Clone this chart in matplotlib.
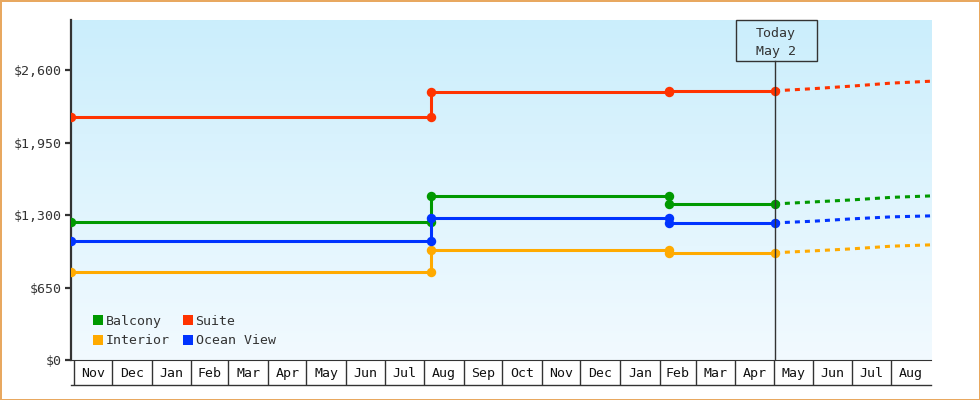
import numpy as np
import pandas as pd
import matplotlib
matplotlib.use('Agg')
import matplotlib.pyplot as plt
import matplotlib.dates as mdates
import matplotlib.transforms as mtransforms
from matplotlib.patches import Patch, Rectangle
from matplotlib.ticker import FuncFormatter
from matplotlib.colors import LinearSegmentedColormap

# price history: start date, then the dates where the price changed
start_date = '2019-10-30'
change_dates = ['2020-08-06', '2021-02-08']
today_date = '2021-05-02'
end_date = '2021-09-01'

balcony = [1239, 1468, 1400]
suite = [2179, 2406, 2415]
interior = [788, 988, 962]
ocean_view = [1069, 1275, 1230]

# forecast (dotted part), first value is today
forecast_dates = ['2021-05-02', '2021-06-01', '2021-07-01', '2021-08-01', '2021-09-01']
balcony_fc = [1400, 1418, 1436, 1459, 1472]
suite_fc = [2415, 2434, 2457, 2484, 2501]
interior_fc = [962, 979, 997, 1021, 1033]
ocean_view_fc = [1230, 1245, 1266, 1284, 1293]

y_ticks = [0, 650, 1300, 1950, 2600]

names = ['Balcony', 'Interior', 'Suite', 'Ocean View']
colors = ['#009900', '#ffaa00', '#ff3300', '#0033ff']
history = [balcony, interior, suite, ocean_view]
forecast = [balcony_fc, interior_fc, suite_fc, ocean_view_fc]

txt = '#333333'
plt.rcParams['font.family'] = ['DejaVu Sans Mono']
plt.rcParams['font.size'] = 9.5


def stepPoints(prices):
	xs = [pd.Timestamp(start_date)]
	ys = [prices[0]]
	for i, d in enumerate(change_dates):
		xs += [pd.Timestamp(d), pd.Timestamp(d)]
		ys += [prices[i], prices[i + 1]]
	xs.append(pd.Timestamp(today_date))
	ys.append(prices[-1])
	return xs, ys


fig = plt.figure(figsize=(9.8, 4.0), dpi=100)
fig.patch.set_edgecolor('#e8a860')
fig.patch.set_linewidth(2)
ax = fig.add_axes([71 / 980, 40 / 400, 860 / 980, 340 / 400])
axm = fig.add_axes([71 / 980, 15 / 400, 860 / 980, 25 / 400], sharex=ax)

bg = LinearSegmentedColormap.from_list('bg', ['#f2faff', '#cbeefc'])
ax.imshow(np.linspace(0, 1, 256).reshape(-1, 1), extent=[0, 1, 0, 1], transform=ax.transAxes,
	cmap=bg, aspect='auto', origin='lower', zorder=0, interpolation='bilinear')

for name, col, hist, fc in zip(names, colors, history, forecast):
	xs, ys = stepPoints(hist)
	ax.plot(xs, ys, '-', color=col, lw=2.2, marker='o', ms=6.8, mec=col, mew=0, zorder=3)
	ax.plot(pd.to_datetime(forecast_dates), fc, color=col, lw=2.2, linestyle=(0, (1.64, 1.64)), zorder=3)

t0 = mdates.date2num(pd.Timestamp(start_date))
t1 = mdates.date2num(pd.Timestamp(end_date))
ax.set_xlim(t0, t1)
ax.set_ylim(0, 3050)

# today marker
today = pd.Timestamp(today_date)
tnum = mdates.date2num(today)
ax.axvline(tnum, ymin=0, ymax=0.879, color=txt, lw=1, zorder=4)
blend = mtransforms.blended_transform_factory(ax.transData, ax.transAxes)
ax.add_patch(Rectangle((tnum - 30.5, 0.879), 63.4, 0.121, transform=blend, fill=False,
	ec=txt, lw=1, clip_on=False, zorder=4))
ax.text(tnum + 1, 0.934, 'Today\n' + today.strftime('%b') + ' ' + str(today.day), transform=blend,
	ha='center', va='center', color=txt, linespacing=1.45, zorder=4)

# axes look
for s in ['top', 'right']:
	ax.spines[s].set_visible(False)
ax.spines['left'].set_color(txt)
ax.spines['left'].set_linewidth(1.6)
ax.spines['bottom'].set_color(txt)
ax.spines['bottom'].set_linewidth(0.8)
ax.set_yticks(y_ticks)
ax.yaxis.set_major_formatter(FuncFormatter(lambda v, p: '${:,.0f}'.format(v)))
ax.tick_params(axis='y', colors=txt, length=4.5, width=1.6, pad=2)
ax.tick_params(axis='x', bottom=False, labelbottom=False)

# month row
months = pd.date_range('2019-11-01', '2021-08-01', freq='MS')
axm.set_ylim(0, 1)
for s in ['top', 'right', 'left']:
	axm.spines[s].set_visible(False)
axm.spines['bottom'].set_color(txt)
axm.spines['bottom'].set_linewidth(1)
axm.set_yticks([])
axm.tick_params(axis='x', bottom=False, labelbottom=False)
axm.patch.set_alpha(0)
for m in months:
	axm.axvline(mdates.date2num(m), color=txt, lw=1)
	mid = m + (m + pd.offsets.MonthBegin(1) - m) / 2
	axm.text(mdates.date2num(mid), 0.45, m.strftime('%b'), ha='center', va='center', color='#111111')
axm.set_xlim(t0, t1)

# legend
handles = [Patch(facecolor=c, edgecolor='none') for c in colors]
leg = ax.legend(handles, names, ncol=2, loc='lower left', bbox_to_anchor=(0.018, 0.018),
	frameon=False, borderpad=0, handlelength=0.76, handleheight=0.76, handletextpad=0.22,
	columnspacing=0.96, labelspacing=0.5)
for t in leg.get_texts():
	t.set_color(txt)

fig.savefig('out.png', dpi=100, facecolor='white', edgecolor=fig.patch.get_edgecolor())
